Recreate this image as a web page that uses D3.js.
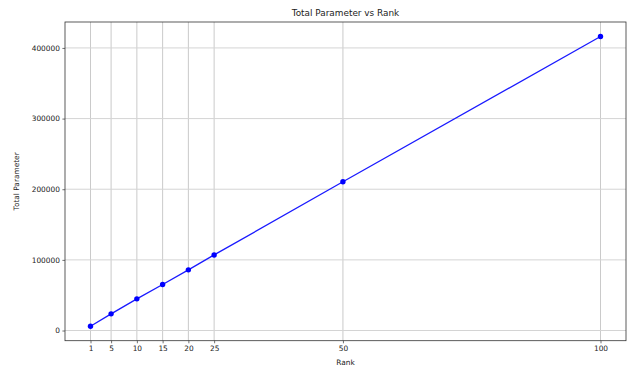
<!DOCTYPE html>
<html>
<head>
<meta charset="utf-8">
<script src="https://cdn.jsdelivr.net/npm/d3@7"></script>
<style>
  html, body { margin: 0; padding: 0; background: #fff; }
  svg { display: block; }
  text { font-family: "DejaVu Sans", sans-serif; fill: #222; }
</style>
</head>
<body>
<svg id="chart" width="627" height="369"></svg>
<script>
const ranks = [1, 5, 10, 15, 20, 25, 50, 100];
const totalParams = [6100, 23600, 44800, 65100, 85900, 107000, 210600, 416200];
const yTicks = [0, 100000, 200000, 300000, 400000];
const titleText = "Total Parameter vs Rank";
const xLabelText = "Rank";
const yLabelText = "Total Parameter";

const W = 627, H = 369;
const m = { left: 65, right: 1, top: 22, bottom: 28.3 };
const svg = d3.select("#chart");

function padded(min, max) { const d = (max - min) * 0.05; return [min - d, max + d]; }

const x = d3.scaleLinear().domain(padded(d3.min(ranks), d3.max(ranks))).range([m.left, W - m.right]);
const y = d3.scaleLinear().domain(padded(d3.min(totalParams), d3.max(totalParams))).range([H - m.bottom, m.top]);

const g = svg.append("g");

// grid
g.append("g").selectAll("line").data(ranks).join("line")
  .attr("x1", d => x(d)).attr("x2", d => x(d))
  .attr("y1", m.top).attr("y2", H - m.bottom)
  .attr("stroke", "#bcbcbc").attr("stroke-width", 0.8);
g.append("g").selectAll("line").data(yTicks).join("line")
  .attr("x1", m.left).attr("x2", W - m.right)
  .attr("y1", d => y(d)).attr("y2", d => y(d))
  .attr("stroke", "#d4d4d4").attr("stroke-width", 1);

// axes
const xAxis = d3.axisBottom(x).tickValues(ranks).tickSize(2.6).tickPadding(2.5).tickFormat(d3.format("d"));
const yAxis = d3.axisLeft(y).tickValues(yTicks).tickSize(2.6).tickPadding(2.5).tickFormat(d3.format("d"));

const gx = svg.append("g").attr("transform", `translate(0,${H - m.bottom})`).call(xAxis);
const gy = svg.append("g").attr("transform", `translate(${m.left},0)`).call(yAxis);
[gx, gy].forEach(a => {
  a.select(".domain").remove();
  a.selectAll(".tick line").attr("stroke", "#333").attr("stroke-width", 0.7);
  a.selectAll(".tick text").attr("font-size", 7.4).attr("font-family", "DejaVu Sans").attr("fill", "#222");
});

// frame
svg.append("rect").attr("x", m.left).attr("y", m.top)
  .attr("width", W - m.right - m.left).attr("height", H - m.bottom - m.top)
  .attr("fill", "none").attr("stroke", "#333").attr("stroke-width", 0.8);

// line
const line = d3.line().x((d, i) => x(ranks[i])).y(d => y(d));
svg.append("path").datum(totalParams).attr("d", line)
  .attr("fill", "none").attr("stroke", "#1a1aff").attr("stroke-width", 1.3);
svg.append("g").selectAll("circle").data(totalParams).join("circle")
  .attr("cx", (d, i) => x(ranks[i])).attr("cy", d => y(d)).attr("r", 2.7)
  .attr("fill", "#0000ff");

// labels
svg.append("text").attr("x", (m.left + W - m.right) / 2).attr("y", 12.5)
  .attr("text-anchor", "middle").attr("dominant-baseline", "central")
  .attr("font-size", 8.9).text(titleText);
svg.append("text").attr("x", (m.left + W - m.right) / 2).attr("y", 362)
  .attr("text-anchor", "middle").attr("dominant-baseline", "central")
  .attr("font-size", 7.4).text(xLabelText);
svg.append("text").attr("transform", `translate(16.5,${(m.top + H - m.bottom) / 2}) rotate(-90)`)
  .attr("text-anchor", "middle").attr("dominant-baseline", "central")
  .attr("font-size", 7.4).text(yLabelText);
</script>
</body>
</html>
